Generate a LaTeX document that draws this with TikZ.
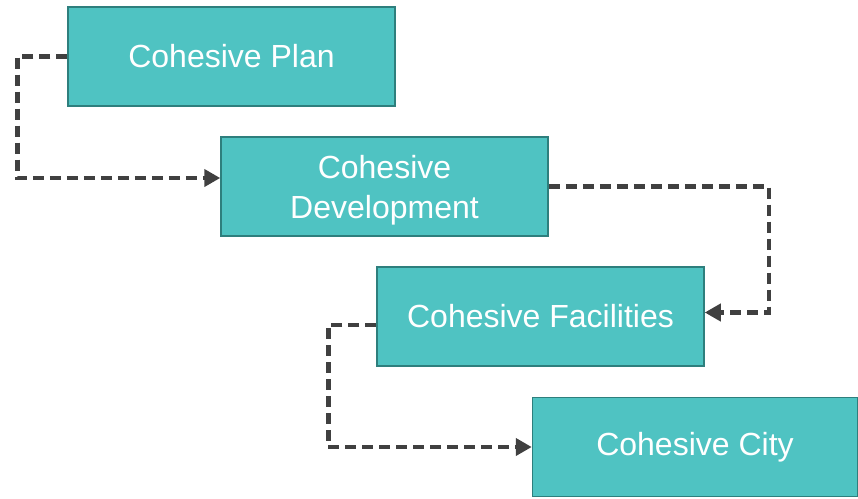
\documentclass[tikz,border=0pt]{standalone}
\usepackage{fontspec}
\setmainfont{Liberation Sans}
\usetikzlibrary{arrows.meta,calc}
\definecolor{boxfill}{HTML}{4FC3C2}
\definecolor{boxedge}{HTML}{2E7F7D}
\definecolor{connc}{HTML}{404040}
\tikzset{
  stagebox/.style={draw=boxedge, line width=1.5pt, fill=boxfill, minimum width=327pt, minimum height=99pt,
    inner sep=0pt, text=white, align=center, font=\fontsize{32}{40}\selectfont},
  conn/.style={draw=connc, line width=4.5pt, dash pattern=on 11pt off 6pt,
    -{Triangle[length=16pt,width=17pt]}}
}
\begin{document}
\begin{tikzpicture}[x=1pt,y=-1pt]
\useasboundingbox (0,0) rectangle (858,498);
\node[stagebox] (b1) at (231.5,56.5) {Cohesive Plan};
\node[stagebox] (b2) at (384.5,186.5) {\raisebox{-4pt}[\height][\depth]{\begin{tabular}{@{}c@{}}Cohesive\\Development\end{tabular}}};
\node[stagebox] (b3) at (540.5,316.5) {Cohesive Facilities};
\node[stagebox, minimum width=325pt] (b4) at (695,447) {Cohesive City};
\draw[conn] (b1.west) -- ++(-50,0) |- ($(b2.west)+(0,-8.5)$);
\draw[conn] (b2.east) -- ++(220,0) |- ($(b3.east)+(0,-4)$);
\draw[conn] ($(b3.west)+(0,8.5)$) -- ++(-48,0) |- (b4.west);
\end{tikzpicture}
\end{document}
